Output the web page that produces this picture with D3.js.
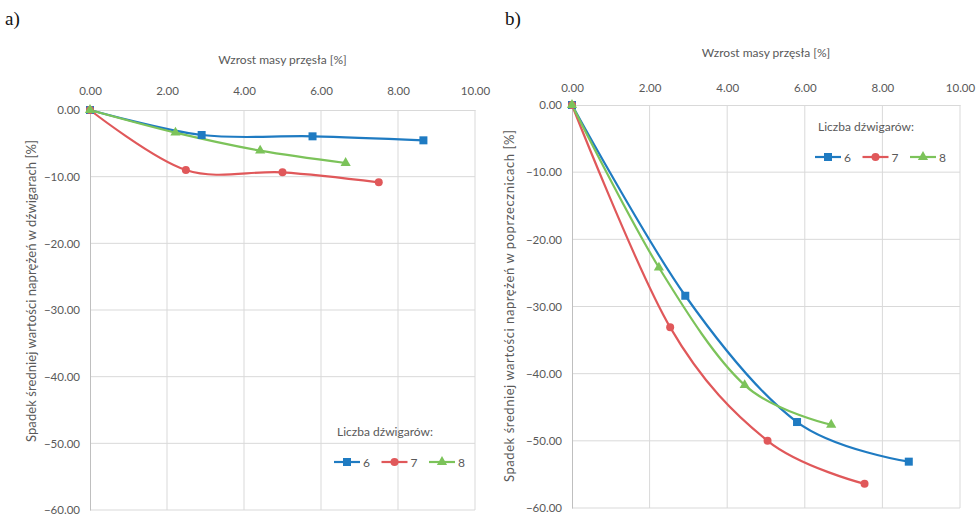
<!DOCTYPE html>
<html>
<head>
<meta charset="utf-8">
<script src="https://cdn.jsdelivr.net/npm/d3@7"></script>
<style>
  body { margin: 0; background: #fff; }
  svg { display: block; }
  .tick text { font-family: Lato, "Open Sans", sans-serif; font-size: 11.5px; fill: #595959; }
  .lbl { font-family: Lato, "Open Sans", sans-serif; fill: #595959; }
</style>
</head>
<body>
<svg id="chart" width="979" height="517"></svg>
<script>
// Legend groups (number of girders)
const SERIES = ["6", "7", "8"];
const COLORS = ["#1f7bc2", "#e0585a", "#7cc35a"];

// x ticks / y ticks (shared by both panels)
const X_TICKS = [0, 2, 4, 6, 8, 10];
const Y_TICKS = [0, -10, -20, -30, -40, -50, -60];

// Panel a) - stress drop in girders
const A_X6 = [0, 2.9, 5.78, 8.66];
const A_Y6 = [0, -3.75, -3.95, -4.55];
const A_X7 = [0, 2.49, 5.0, 7.5];
const A_Y7 = [0, -9.0, -9.35, -10.85];
const A_X8 = [0, 2.22, 4.42, 6.64];
const A_Y8 = [0, -3.4, -6.1, -7.95];

// Panel b) - stress drop in cross-beams
const B_X6 = [0, 2.92, 5.8, 8.68];
const B_Y6 = [0, -28.4, -47.2, -53.1];
const B_X7 = [0, 2.53, 5.04, 7.54];
const B_Y7 = [0, -33.1, -50.0, -56.4];
const B_X8 = [0, 2.24, 4.45, 6.68];
const B_Y8 = [0, -24.2, -41.7, -47.6];

const fmt = d3.format(".2f");
const svg = d3.select("#chart");

function toPts(xs, ys) { return xs.map((x, i) => ({ x: x, y: ys[i] })); }

function marker(g, kind, color, cx, cy) {
    if (kind === 0) {
        g.append("rect").attr("x", cx - 4).attr("y", cy - 4).attr("width", 8).attr("height", 8).attr("fill", color);
    } else if (kind === 1) {
        g.append("circle").attr("cx", cx).attr("cy", cy).attr("r", 4).attr("fill", color);
    } else {
        g.append("path").attr("d", d3.symbol().type(d3.symbolTriangle).size(45)()).attr("transform", `translate(${cx},${cy})`).attr("fill", color);
    }
}

function drawPanel(p) {
    const x = d3.scaleLinear().domain([0, 10]).range([p.left, p.right]);
    const y = d3.scaleLinear().domain([0, -60]).range([p.top, p.bottom]);
    const g = svg.append("g");

    // panel letter
    g.append("text").attr("x", p.letterX).attr("y", 25)
        .style("font-family", "'Liberation Serif', 'DejaVu Serif', serif").style("font-size", "19px").attr("fill", "#111")
        .text(p.letter);

    // gridlines
    g.append("g").selectAll("line.v").data(X_TICKS.slice(1)).join("line")
        .attr("x1", d => x(d)).attr("x2", d => x(d)).attr("y1", p.top).attr("y2", p.bottom)
        .attr("stroke", "#d9d9d9").attr("stroke-width", 1);
    g.append("g").selectAll("line.h").data(Y_TICKS.slice(1)).join("line")
        .attr("x1", p.left).attr("x2", p.right).attr("y1", d => y(d)).attr("y2", d => y(d))
        .attr("stroke", "#d9d9d9").attr("stroke-width", 1);

    // axes (x on top, y on the left)
    const xa = g.append("g").attr("transform", `translate(0,${p.top})`)
        .call(d3.axisTop(x).tickValues(X_TICKS).tickFormat(fmt).tickSize(0).tickPadding(p.xPad));
    xa.select(".domain").attr("stroke", "#d9d9d9");
    const ya = g.append("g").attr("transform", `translate(${p.left},0)`)
        .call(d3.axisLeft(y).tickValues(Y_TICKS).tickFormat(fmt).tickSize(0).tickPadding(10));
    ya.select(".domain").attr("stroke", "#bfbfbf");

    // axis titles
    g.append("text").attr("class", "lbl").attr("x", (p.left + p.right) / 2).attr("y", p.xTitleY)
        .attr("text-anchor", "middle").style("font-size", "12px").text("Wzrost masy przęsła [%]");
    g.append("text").attr("class", "lbl")
        .attr("transform", `translate(${p.yTitleX},${p.yTitleMid}) rotate(-90)`)
        .attr("text-anchor", "middle").style("font-size", "13px")
        .attr("textLength", p.yTitleLen).attr("lengthAdjust", "spacing")
        .text(p.yTitle);

    // series
    const line = d3.line().x(d => x(d.x)).y(d => y(d.y)).curve(d3.curveCardinal.tension(0));
    p.data.forEach((pts, i) => {
        g.append("path").datum(pts).attr("d", line).attr("fill", "none")
            .attr("stroke", COLORS[i]).attr("stroke-width", 2.2);
    });
    p.data.forEach((pts, i) => {
        pts.forEach(d => marker(g, i, COLORS[i], x(d.x), y(d.y)));
    });

    // legend
    g.append("text").attr("class", "lbl").attr("x", p.legX + 51).attr("y", p.legY - 26)
        .attr("text-anchor", "middle").style("font-size", "12px").text("Liczba dźwigarów:");
    SERIES.forEach((s, i) => {
        const lx = p.legX + i * 47.5;
        g.append("line").attr("x1", lx).attr("x2", lx + 26).attr("y1", p.legY).attr("y2", p.legY)
            .attr("stroke", COLORS[i]).attr("stroke-width", 2.2);
        marker(g, i, COLORS[i], lx + 13, p.legY);
        g.append("text").attr("class", "lbl").attr("x", lx + 29).attr("y", p.legY + 4.5)
            .style("font-size", "12px").text(s);
    });
}

drawPanel({
    letter: "a)", letterX: 5,
    left: 90, right: 475, top: 110, bottom: 510,
    xPad: 15, xTitleY: 64, yTitleX: 36, yTitleMid: 291, yTitleLen: 302,
    yTitle: "Spadek średniej wartości naprężeń w dźwigarach [%]",
    legX: 334, legY: 462,
    data: [toPts(A_X6, A_Y6), toPts(A_X7, A_Y7), toPts(A_X8, A_Y8)]
});

drawPanel({
    letter: "b)", letterX: 505,
    left: 572, right: 960, top: 105, bottom: 508,
    xPad: 13, xTitleY: 57, yTitleX: 514, yTitleMid: 306, yTitleLen: 352,
    yTitle: "Spadek średniej wartości naprężeń w poprzecznicach [%]",
    legX: 815, legY: 157,
    data: [toPts(B_X6, B_Y6), toPts(B_X7, B_Y7), toPts(B_X8, B_Y8)]
});
</script>
</body>
</html>
